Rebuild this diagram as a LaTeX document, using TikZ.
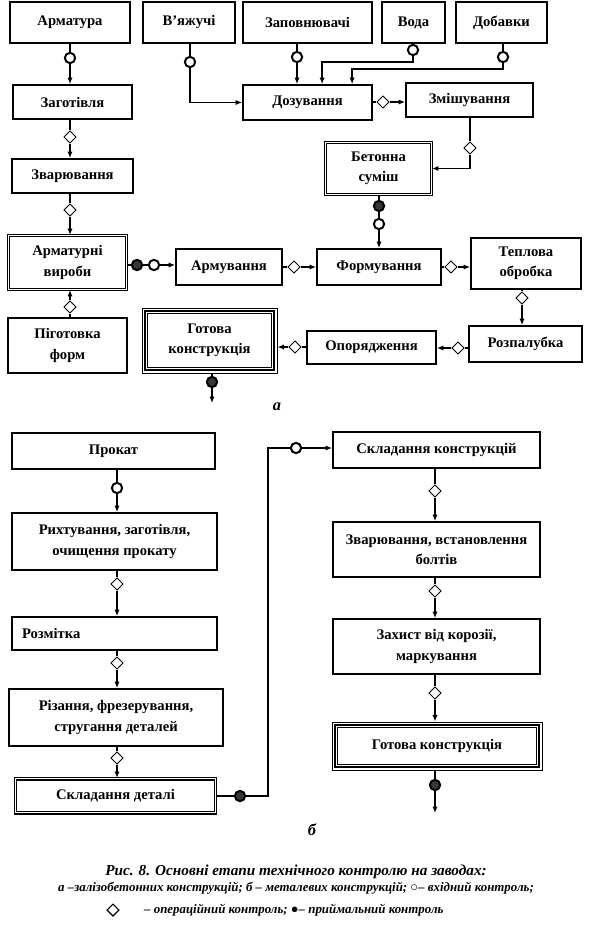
\documentclass[tikz,border=0pt]{standalone}
\usepackage{fontspec}
\setmainfont{Liberation Serif}
\usepackage{tikz}
\usetikzlibrary{arrows.meta, positioning, calc, shapes.geometric}
\definecolor{markgray}{RGB}{55,55,55}

% inner frames of the "finished" boxes
\newcommand{\innerframes}[1]{%
  \draw[line width=1.8pt] ([shift={(2.6pt,2.6pt)}]#1.south west) rectangle ([shift={(-2.6pt,-2.6pt)}]#1.north east);
  \draw[line width=0.7pt] ([shift={(5.3pt,5.3pt)}]#1.south west) rectangle ([shift={(-5.3pt,-5.3pt)}]#1.north east);}

\begin{document}
\begin{tikzpicture}[x=0.03cm, y=-0.03cm,
    box/.style={draw, line width=1.5pt, fill=white, align=center, inner sep=2pt,
      font=\fontsize{12.5}{17.5}\selectfont\bfseries},
    sz/.style 2 args={minimum width=#1*0.03cm, minimum height=#2*0.03cm},
    dbox/.style={box, double, double distance=1.6pt, line width=0.9pt},
    tbox/.style={box, line width=0.8pt},
    flow/.style={line width=1.4pt},
    arr/.style={flow, -{Latex[length=5.5pt, width=4.5pt]}},
    incirc/.style={circle, draw, line width=1.7pt, fill=white, minimum size=0.31cm, inner sep=0pt},
    accirc/.style={incirc, fill=markgray},
    opdiam/.style={diamond, draw, line width=0.8pt, fill=white, minimum size=0.37cm, inner sep=0pt},
    tag/.style={font=\fontsize{14}{14}\selectfont\bfseries\itshape},
    captA/.style={font=\fontsize{13}{14}\selectfont\bfseries\itshape},
    captB/.style={font=\fontsize{11}{12}\selectfont\bfseries\itshape}]
    \useasboundingbox (0,0) rectangle (594,937);

    % a) reinforced concrete
    \node[box, sz={120}{41}] (arm) at (70,22.5) {Арматура};
    \node[box, sz={92}{41}] (vyaz) at (189,22.5) {В’яжучі};
    \node[box, sz={129}{41}] (zapov) at (307.5,22.5) {Заповнювачі};
    \node[box, sz={63}{41}] (voda) at (413.5,22.5) {Вода};
    \node[box, sz={91}{41}] (dob) at (501.5,22.5) {Добавки};
    \node[box, sz={119}{34}] (zag) at (72.5,102) {Заготівля};
    \node[box, sz={129}{35}] (doz) at (307.5,102.5) {Дозування};
    \node[box, sz={127}{34}] (zmish) at (469.5,100) {Змішування};
    \node[box, sz={121}{34}] (zvar) at (72.5,176) {Зварювання};
    \node[dbox, sz={106}{52}] (beton) at (378.5,168.5) {Бетонна\\суміш};
    \node[dbox, sz={118}{54}] (armvyr) at (67.5,262.5) {Арматурні\\вироби};
    \node[box, sz={106}{36}] (armuv) at (229,267) {Армування};
    \node[box, sz={124}{36}] (form) at (379,267) {Формування};
    \node[box, sz={110}{51}] (tepl) at (526,263.5) {Теплова\\обробка};
    \node[box, sz={113}{36}] (rozp) at (525.5,344) {Розпалубка};
    \node[box, sz={129}{33}] (opor) at (371.5,347.5) {Опорядження};
    \node[tbox, sz={135}{65}] (gotA) at (209.5,340.5) {Готова\\конструкція};
    \innerframes{gotA}
    \node[box, sz={119}{55}] (pidg) at (67.5,345.5) {Піготовка\\форм};
    \node[tag] (labA) at (277,407) {а};

    % control marks, part a
    \node[incirc] (c1) at (70,58) {};
    \node[opdiam] (d1) at (70,137) {};
    \node[opdiam] (d2) at (70,210) {};
    \node[opdiam] (d3) at (70,307) {};
    \node[accirc] (f1) at (137,265) {};
    \node[incirc] (c2) at (154,265) {};
    \node[opdiam] (d4) at (294,267) {};
    \node[accirc] (f2) at (379,206) {};
    \node[incirc] (c3) at (379,224) {};
    \node[opdiam] (d5) at (451,267) {};
    \node[opdiam] (d6) at (522,298) {};
    \node[opdiam] (d7) at (458,348) {};
    \node[opdiam] (d8) at (295,347) {};
    \node[accirc] (f3) at (212,382) {};
    \node[opdiam] (d9) at (470,148) {};
    \node[opdiam] (d10) at (383,102) {};
    \node[incirc] (c4) at (190,62) {};
    \node[incirc] (c5) at (297,57) {};
    \node[incirc] (c6) at (413,50) {};
    \node[incirc] (c7) at (503,57) {};
    \coordinate (vodaIn) at ($(doz.north west)+(80,0)$);
    \coordinate (dobIn) at ($(doz.north west)+(110,0)$);
    \coordinate (outA) at (212,403);

    % connectors, part a
    \draw[flow] (arm.south -| c1) -- (c1);
    \draw[arr] (c1) -- (c1 |- zag.north);
    \draw[flow] (zag.south -| d1) -- (d1);
    \draw[arr] (d1) -- (d1 |- zvar.north);
    \draw[flow] (zvar.south -| d2) -- (d2);
    \draw[arr] (d2) -- (d2 |- armvyr.north);
    \draw[flow] (pidg.north -| d3) -- (d3);
    \draw[arr] (d3) -- (d3 |- armvyr.south);
    \draw[flow] (armvyr.east |- f1) -- (f1);
    \draw[flow] (f1) -- (c2);
    \draw[arr] (c2) -- (c2 -| armuv.west);
    \draw[flow] (armuv.east |- d4) -- (d4);
    \draw[arr] (d4) -- (d4 -| form.west);
    \draw[flow] (beton.south -| f2) -- (f2);
    \draw[flow] (f2) -- (c3);
    \draw[arr] (c3) -- (c3 |- form.north);
    \draw[flow] (form.east |- d5) -- (d5);
    \draw[arr] (d5) -- (d5 -| tepl.west);
    \draw[flow] (tepl.south -| d6) -- (d6);
    \draw[arr] (d6) -- (d6 |- rozp.north);
    \draw[flow] (rozp.west |- d7) -- (d7);
    \draw[arr] (d7) -- (d7 -| opor.east);
    \draw[flow] (opor.west |- d8) -- (d8);
    \draw[arr] (d8) -- (d8 -| gotA.east);
    \draw[flow] (gotA.south -| f3) -- (f3);
    \draw[arr] (f3) -- (outA);
    \draw[flow] (zmish.south -| d9) -- (d9);
    \draw[arr] (d9) |- (beton);
    \draw[flow] (doz.east |- d10) -- (d10);
    \draw[arr] (d10) -- (d10 -| zmish.west);
    \draw[flow] (vyaz.south -| c4) -- (c4);
    \draw[arr] (c4) |- (doz);
    \draw[flow] (zapov.south -| c5) -- (c5);
    \draw[arr] (c5) -- (c5 |- doz.north);
    \draw[flow] (voda.south -| c6) -- (c6);
    \draw[arr] (c6) -- ++(0,12) -| (vodaIn);
    \draw[flow] (dob.south -| c7) -- (c7);
    \draw[arr] (c7) -- ++(0,12) -| (dobIn);

    % b) steel structures
    \node[box, sz={203}{36}] (prok) at (113.5,451) {Прокат};
    \node[box, sz={205}{57}] (riht) at (114.5,541.5) {Рихтування, заготівля,\\очищення прокату};
    \node[box, sz={205}{33}, text width=185*0.03cm, align=left, inner xsep=10*0.03cm] (rozm) at (114.5,633.5) {Розмітка};
    \node[box, sz={214}{57}] (rizan) at (116,717.5) {Різання, фрезерування,\\стругання деталей};
    \node[dbox, sz={200}{34}] (sklD) at (115.5,795.5) {Складання деталі};
    \node[box, sz={207}{36}] (sklK) at (436.5,450) {Складання конструкцій};
    \node[box, sz={207}{55}] (zvB) at (436.5,549.5) {Зварювання, встановлення\\болтів};
    \node[box, sz={207}{55}] (zah) at (436.5,646.5) {Захист від корозії,\\маркування};
    \node[tbox, sz={210}{48}] (gotB) at (437,746) {Готова конструкція};
    \innerframes{gotB}
    \node[tag] (labB) at (312,830) {б};

    % control marks, part b
    \node[incirc] (c8) at (117,488) {};
    \node[opdiam] (d11) at (117,584) {};
    \node[opdiam] (d12) at (117,663) {};
    \node[opdiam] (d13) at (117,758) {};
    \node[accirc] (f4) at (240,796) {};
    \node[incirc] (c9) at (296,448) {};
    \node[opdiam] (d14) at (435,491) {};
    \node[opdiam] (d15) at (435,591) {};
    \node[opdiam] (d16) at (435,693) {};
    \node[accirc] (f5) at (435,785) {};
    \coordinate (bendB) at (268,448);
    \coordinate (outB) at (435,813);

    % connectors, part b
    \draw[flow] (prok.south -| c8) -- (c8);
    \draw[arr] (c8) -- (c8 |- riht.north);
    \draw[flow] (riht.south -| d11) -- (d11);
    \draw[arr] (d11) -- (d11 |- rozm.north);
    \draw[flow] (rozm.south -| d12) -- (d12);
    \draw[arr] (d12) -- (d12 |- rizan.north);
    \draw[flow] (rizan.south -| d13) -- (d13);
    \draw[arr] (d13) -- (d13 |- sklD.north);
    \draw[flow] (sklD.east |- f4) -- (f4);
    \draw[flow] (f4) -| (bendB) -- (c9);
    \draw[arr] (c9) -- (c9 -| sklK.west);
    \draw[flow] (sklK.south -| d14) -- (d14);
    \draw[arr] (d14) -- (d14 |- zvB.north);
    \draw[flow] (zvB.south -| d15) -- (d15);
    \draw[arr] (d15) -- (d15 |- zah.north);
    \draw[flow] (zah.south -| d16) -- (d16);
    \draw[arr] (d16) -- (d16 |- gotB.north);
    \draw[flow] (gotB.south -| f5) -- (f5);
    \draw[arr] (f5) -- (outB);

    % caption
    \node[captA] (cap1) at (296,872) {Рис. 8. Основні етапи технічного контролю на заводах:};
    \node[captB] (cap2) at (296,888) {а –залізобетонних конструкцій; б – металевих конструкцій; ○– вхідний контроль;};
    \node[opdiam, line width=1pt] (legD) at (113,910) {};
    \node[captB, anchor=west] (cap3) at (140,910) {– операційний контроль; ●– приймальний контроль};
\end{tikzpicture}
\end{document}
